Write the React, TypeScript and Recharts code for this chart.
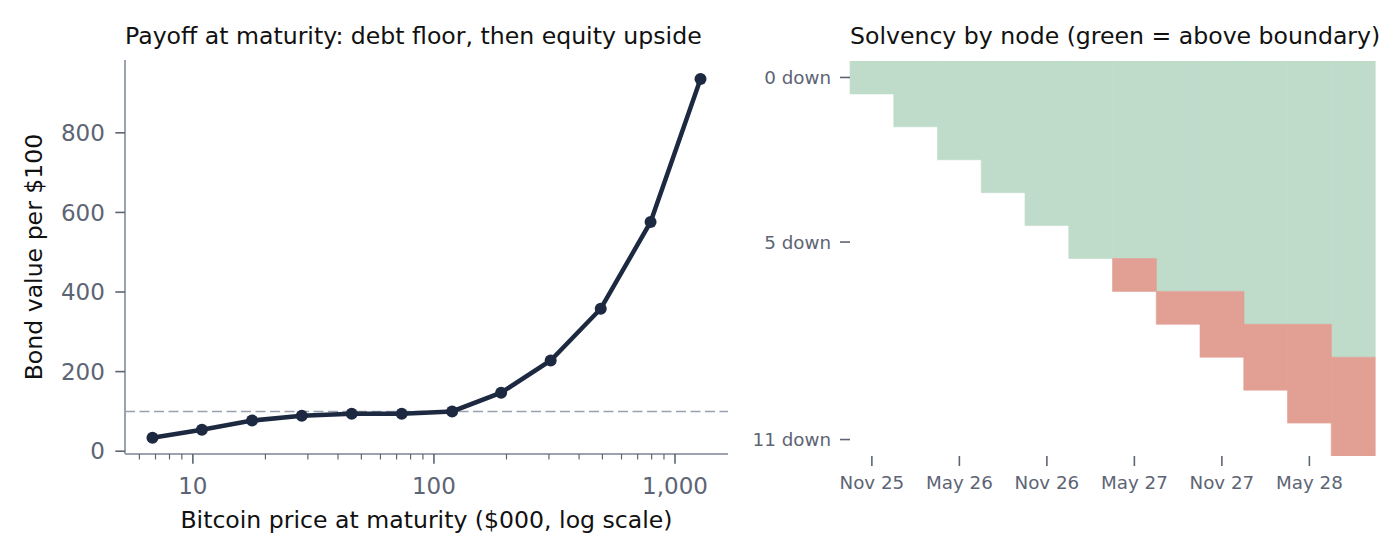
import { LineChart, Line, XAxis, YAxis, ReferenceLine, BarChart, Bar } from 'recharts';

const FONT = '"DejaVu Sans", sans-serif';
const INK = '#1c2940';
const TICK_TEXT = '#5d6474';
const SPINE = '#9ca3af';
const GREEN = '#bfdccb';
const RED = '#e2a094';

// left panel: bond payoff against bitcoin price at maturity ($000)
const btcPrices = [6.8, 10.9, 17.6, 28.3, 45.6, 73.5, 119, 190, 305, 492, 792, 1276];
const bondValues = [34, 54, 77, 89, 94, 94, 100, 147, 228, 358, 576, 935];
const parValue = 100;
const majorPriceTicks = [10, 100, 1000];
const minorPriceTicks = [6, 7, 8, 9, 20, 30, 40, 50, 60, 70, 80, 90, 200, 300, 400, 500, 600, 700, 800, 900];
const valueTicks = [0, 200, 400, 600, 800];

// right panel: solvent / insolvent nodes per quarter
const quarters = ['Nov 25', 'Feb 26', 'May 26', 'Aug 26', 'Nov 26', 'Feb 27', 'May 27', 'Aug 27', 'Nov 27', 'Feb 28', 'May 28', 'Aug 28'];
const solventNodes = [1, 2, 3, 4, 5, 6, 6, 7, 7, 8, 8, 9];
const insolventNodes = [0, 0, 0, 0, 0, 0, 1, 1, 2, 2, 3, 3];
const nodeTicks = [0, 5, 11];

const payoffData = btcPrices.map((price, i) => ({ price, value: bondValues[i] }));
const nodeData = quarters.map((quarter, i) => ({
  quarter,
  solvent: solventNodes[i],
  insolvent: insolventNodes[i],
}));

function LogTick(props: any) {
  const { x, y, payload } = props;
  const major = majorPriceTicks.includes(payload.value);
  return (
    <g>
      <line x1={x} x2={x} y1={y} y2={y + (major ? 9.7 : 5.5)} stroke={TICK_TEXT} strokeWidth={major ? 1.6 : 1.2} />
      {major && (
        <text x={x} y={y + 40} textAnchor="middle" fill={TICK_TEXT} fontSize={23} fontFamily={FONT}>
          {payload.value.toLocaleString('en-US')}
        </text>
      )}
    </g>
  );
}

export default function App() {
  return (
    <div style={{ position: 'absolute', left: 0, top: 0, width: 1400, height: 560, background: '#fff', fontFamily: FONT }}>
      <div style={{ position: 'absolute', left: 0, top: 0 }}>
        <LineChart width={740} height={560} data={payoffData} margin={{ top: 60, right: 12, bottom: 46, left: 45 }}>
          <XAxis
            dataKey="price"
            type="number"
            scale="log"
            domain={[5.23, 1659]}
            allowDataOverflow
            ticks={[...minorPriceTicks, ...majorPriceTicks].sort((a, b) => a - b)}
            interval={0}
            height={60}
            tickSize={0}
            tickMargin={0}
            tickLine={false}
            axisLine={{ stroke: SPINE, strokeWidth: 2 }}
            tick={<LogTick />}
          />
          <YAxis
            type="number"
            domain={[-7, 983]}
            allowDataOverflow
            ticks={valueTicks}
            width={80}
            tickSize={9.7}
            tickMargin={10.5}
            axisLine={{ stroke: SPINE, strokeWidth: 2 }}
            tickLine={{ stroke: TICK_TEXT, strokeWidth: 1.6 }}
            tick={{ fill: TICK_TEXT, fontSize: 23, fontFamily: FONT }}
          />
          <ReferenceLine y={parValue} stroke="#98a1b0" strokeWidth={1.5} strokeDasharray="10 4.5" />
          <Line
            dataKey="value"
            stroke={INK}
            strokeWidth={4.5}
            dot={{ r: 6, fill: INK, stroke: INK, strokeWidth: 0 }}
            isAnimationActive={false}
          />
        </LineChart>
      </div>

      <div style={{ position: 'absolute', left: 740, top: 0 }}>
        <BarChart
          width={660}
          height={560}
          data={nodeData}
          barCategoryGap={0}
          barGap={0}
          margin={{ top: 61, right: 25, bottom: 54, left: 10 }}
        >
          <XAxis
            dataKey="quarter"
            interval={1}
            height={50}
            axisLine={false}
            tickSize={10}
            tickMargin={10}
            tickLine={{ stroke: TICK_TEXT, strokeWidth: 1.6 }}
            tick={{ fill: TICK_TEXT, fontSize: 18.3, fontFamily: FONT }}
          />
          <YAxis
            type="number"
            domain={[0, 12]}
            reversed
            allowDataOverflow
            ticks={nodeTicks.map((n) => n + 0.5)}
            tickFormatter={(v: number) => `${v - 0.5} down`}
            width={100}
            axisLine={false}
            tickSize={10}
            tickMargin={9}
            tickLine={{ stroke: TICK_TEXT, strokeWidth: 1.6 }}
            tick={{ fill: TICK_TEXT, fontSize: 18.3, fontFamily: FONT }}
          />
          <Bar dataKey="solvent" stackId="n" fill={GREEN} stroke={GREEN} strokeWidth={0.6} isAnimationActive={false} />
          <Bar dataKey="insolvent" stackId="n" fill={RED} stroke={RED} strokeWidth={0.6} isAnimationActive={false} />
        </BarChart>
      </div>

      <svg width={1400} height={560} style={{ position: 'absolute', left: 0, top: 0, pointerEvents: 'none' }}>
        <text x={125} y={44.3} fontSize={23.6} fontFamily={FONT} fill="#111">
          Payoff at maturity: debt floor, then equity upside
        </text>
        <text x={850} y={44.3} fontSize={23.6} fontFamily={FONT} fill="#111">
          Solvency by node (green = above boundary)
        </text>
        <text x={426.5} y={528.3} fontSize={23.6} fontFamily={FONT} fill="#111" textAnchor="middle">
          Bitcoin price at maturity ($000, log scale)
        </text>
        <text
          x={42}
          y={257}
          fontSize={23.6}
          fontFamily={FONT}
          fill="#111"
          textAnchor="middle"
          transform="rotate(-90 42 257)"
        >
          Bond value per $100
        </text>
      </svg>
    </div>
  );
}
